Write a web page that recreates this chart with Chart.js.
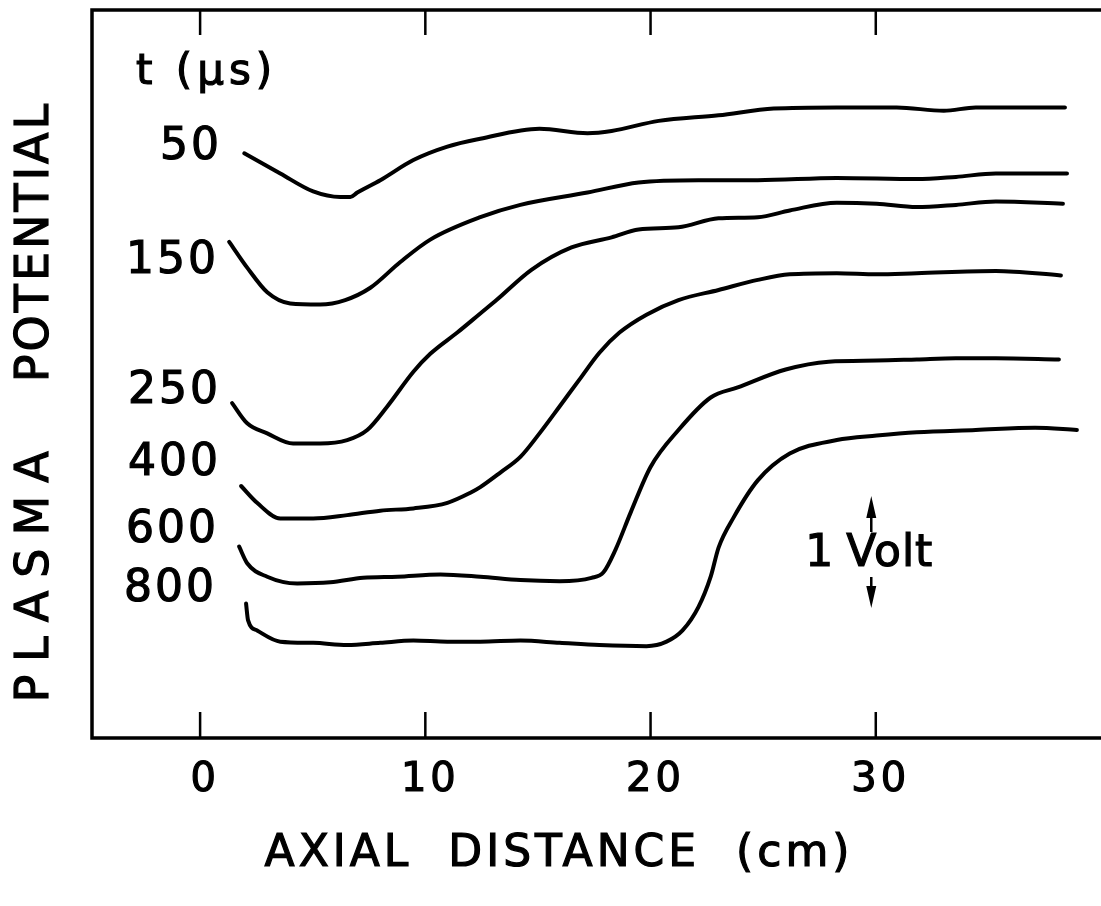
<!DOCTYPE html>
<html>
<head>
<meta charset="utf-8">
<script src="https://cdn.jsdelivr.net/npm/chart.js@4.4.1/dist/chart.umd.min.js"></script>
<style>
html, body { margin: 0; padding: 0; background: #fff; }
#wrap { position: relative; width: 1101px; height: 906px; }
</style>
</head>
<body>
<div id="wrap"><canvas id="profiles"></canvas></div>
<script>
// axial distance (cm) and plasma potential (V, curves offset for display)
const dist50 = [1.96, 3.56, 5.02, 6.22, 6.67, 6.98, 8.0, 9.47, 10.98, 12.44, 15.07, 17.2, 18.27, 20.36, 23.02, 25.47, 28.27, 30.93, 33.02, 34.44, 38.4];
const pot50 = [5.22, 5.04, 4.88, 4.83, 4.83, 4.87, 4.98, 5.16, 5.28, 5.35, 5.44, 5.40, 5.42, 5.51, 5.56, 5.62, 5.63, 5.63, 5.60, 5.63, 5.63];

const dist150 = [1.29, 2.09, 2.98, 4.0, 5.33, 6.44, 7.56, 8.89, 10.22, 12.44, 14.22, 17.2, 19.47, 22.13, 24.76, 28.27, 31.82, 33.56, 35.33, 38.49];
const pot150 = [4.43, 4.20, 3.98, 3.88, 3.87, 3.91, 4.02, 4.25, 4.45, 4.65, 4.76, 4.87, 4.96, 4.98, 4.98, 5.0, 4.99, 5.01, 5.04, 5.04];

const dist250 = [1.42, 2.09, 2.98, 4.13, 5.33, 6.53, 7.42, 8.31, 9.47, 10.22, 11.42, 12.44, 13.16, 14.71, 16.49, 18.27, 19.47, 21.24, 23.02, 24.76, 26.18, 28.27, 30.04, 31.82, 33.56, 35.33, 38.31];
const pot250 = [2.99, 2.81, 2.72, 2.63, 2.63, 2.66, 2.75, 2.96, 3.27, 3.43, 3.62, 3.79, 3.91, 4.18, 4.38, 4.47, 4.54, 4.56, 4.64, 4.65, 4.71, 4.78, 4.77, 4.74, 4.76, 4.79, 4.77];

const dist400 = [1.82, 2.53, 3.56, 5.02, 6.53, 8.0, 9.47, 10.98, 12.0, 12.44, 13.33, 14.22, 15.07, 15.96, 16.84, 17.73, 18.62, 19.82, 21.24, 23.02, 24.76, 26.18, 28.27, 30.04, 31.82, 35.33, 38.22];
const pot400 = [2.25, 2.10, 1.96, 1.96, 1.99, 2.03, 2.05, 2.10, 2.19, 2.24, 2.37, 2.51, 2.72, 2.96, 3.20, 3.44, 3.62, 3.78, 3.91, 4.00, 4.09, 4.14, 4.15, 4.14, 4.15, 4.17, 4.13];

const dist600 = [1.73, 2.09, 2.98, 4.31, 5.78, 7.24, 8.76, 10.67, 12.44, 14.22, 15.96, 17.38, 17.91, 18.44, 19.11, 20.0, 21.24, 22.67, 23.87, 26.0, 27.91, 30.04, 31.82, 33.56, 35.33, 38.13];
const pot600 = [1.71, 1.56, 1.44, 1.38, 1.39, 1.43, 1.44, 1.46, 1.44, 1.41, 1.40, 1.43, 1.48, 1.68, 2.01, 2.42, 2.75, 3.04, 3.13, 3.29, 3.36, 3.37, 3.38, 3.39, 3.39, 3.38];

const dist800 = [2.04, 2.13, 2.53, 3.56, 5.02, 6.53, 8.0, 9.47, 10.98, 12.44, 14.22, 15.96, 17.73, 19.82, 20.71, 21.42, 22.13, 22.67, 23.02, 23.69, 24.76, 26.18, 28.27, 30.04, 31.82, 34.44, 37.07, 38.93];
const pot800 = [1.20, 1.05, 0.96, 0.86, 0.85, 0.83, 0.85, 0.87, 0.86, 0.86, 0.87, 0.85, 0.83, 0.82, 0.86, 0.96, 1.17, 1.44, 1.70, 1.97, 2.30, 2.54, 2.66, 2.70, 2.73, 2.75, 2.77, 2.75];

const xTicks = [0, 10, 20, 30];
const times = ['50', '150', '250', '400', '600', '800'];

const FONT = "'DejaVu Sans', sans-serif";

function toPoints(xs, ys) {
    return xs.map((x, i) => ({ x: x, y: ys[i] }));
}

const series = [
    toPoints(dist50, pot50),
    toPoints(dist150, pot150),
    toPoints(dist250, pot250),
    toPoints(dist400, pot400),
    toPoints(dist600, pot600),
    toPoints(dist800, pot800)
];

// label anchors for each trace: right edge and vertical centre in px
const timeLabelPos = [
    [219, 148], [216, 262], [218, 392], [218, 464], [216, 531], [214, 590]
];

function drawText(ctx, txt, x, y, size, align, spacing) {
    ctx.font = size + 'px ' + FONT;
    ctx.letterSpacing = (spacing || 0) + 'px';
    ctx.textAlign = align;
    ctx.textBaseline = 'middle';
    // letterSpacing adds trailing space, shift to keep alignment honest
    let dx = 0;
    if (spacing) {
        if (align === 'center') dx = spacing / 2;
        if (align === 'right') dx = spacing;
    }
    ctx.fillText(txt, x + dx, y);
    // hand lettering is a little heavier than the font
    ctx.lineWidth = 1.2;
    ctx.strokeText(txt, x + dx, y);
}

const framePlugin = {
    id: 'frame',
    afterDraw(chart) {
        const ctx = chart.ctx;
        const a = chart.chartArea;
        const xs = chart.scales.x;
        const ys = chart.scales.y;
        ctx.save();
        ctx.strokeStyle = '#000';
        ctx.fillStyle = '#000';

        // open box: top, left and bottom edges
        ctx.lineWidth = 3.5;
        ctx.beginPath();
        ctx.moveTo(a.right + 2, a.top);
        ctx.lineTo(a.left, a.top);
        ctx.lineTo(a.left, a.bottom);
        ctx.lineTo(a.right + 2, a.bottom);
        ctx.stroke();

        // inward ticks on top and bottom
        xTicks.forEach(v => {
            const px = xs.getPixelForValue(v);
            ctx.lineWidth = 2.5;
            ctx.beginPath();
            ctx.moveTo(px, a.top);
            ctx.lineTo(px, a.top + 25);
            ctx.moveTo(px, a.bottom);
            ctx.lineTo(px, a.bottom - 26);
            ctx.stroke();
            drawText(ctx, String(v), px + 3, a.bottom + 43, 40, 'center', 4);
        });

        drawText(ctx, 'AXIAL  DISTANCE  (cm)', 557, 855, 44, 'center', 4);

        // rotated y title
        ctx.save();
        ctx.translate(36, 0);
        ctx.rotate(-Math.PI / 2);
        drawText(ctx, 'PLASMA', -577, 0, 46, 'center', 13);
        drawText(ctx, 'POTENTIAL', -243, 0, 46, 'center', 3);
        ctx.restore();

        // time labels
        drawText(ctx, 't (\u03bcs)', 136, 73, 42, 'left', 5);
        times.forEach((t, i) => {
            const p = timeLabelPos[i];
            drawText(ctx, t, p[0], p[1], 44, 'right', 3);
        });

        // 1 volt scale bar at x = 30 cm
        const ax = xs.getPixelForValue(29.8);
        const yLo = ys.getPixelForValue(1.16);
        const yHi = ys.getPixelForValue(2.16);
        ctx.lineWidth = 2.5;
        ctx.beginPath();
        ctx.moveTo(ax, yHi + 14);
        ctx.lineTo(ax, yHi + 36);
        ctx.moveTo(ax, yLo - 14);
        ctx.lineTo(ax, yLo - 31);
        ctx.stroke();
        ctx.beginPath();
        ctx.moveTo(ax, yHi);
        ctx.lineTo(ax - 5, yHi + 22);
        ctx.lineTo(ax + 5, yHi + 22);
        ctx.closePath();
        ctx.moveTo(ax, yLo);
        ctx.lineTo(ax - 5, yLo - 22);
        ctx.lineTo(ax + 5, yLo - 22);
        ctx.closePath();
        ctx.fill();
        const ty = (yLo + yHi) / 2 + 2;
        drawText(ctx, '1', ax - 38, ty, 44, 'right', 0);
        drawText(ctx, 'Volt', ax - 25, ty, 44, 'left', 1);

        ctx.restore();
    }
};

const ctx = document.getElementById('profiles').getContext('2d');
const profileChart = new Chart(ctx, {
    type: 'line',
    data: {
        datasets: series.map((pts, i) => ({
            label: times[i] + ' \u03bcs',
            data: pts,
            borderColor: '#000',
            borderWidth: 4,
            pointRadius: 0,
            fill: false,
            cubicInterpolationMode: 'monotone',
            borderCapStyle: 'round',
            borderJoinStyle: 'round'
        }))
    },
    options: {
        responsive: true,
        maintainAspectRatio: false,
        devicePixelRatio: 1,
        animation: false,
        layout: {
            padding: { left: 92, top: 10, right: 0, bottom: 168 }
        },
        plugins: {
            legend: { display: false },
            tooltip: { enabled: false }
        },
        scales: {
            x: { type: 'linear', min: -4.8, max: 40, display: false },
            y: { type: 'linear', min: 0, max: 6.5, display: false }
        }
    },
    plugins: [framePlugin]
});
</script>
</body>
</html>
